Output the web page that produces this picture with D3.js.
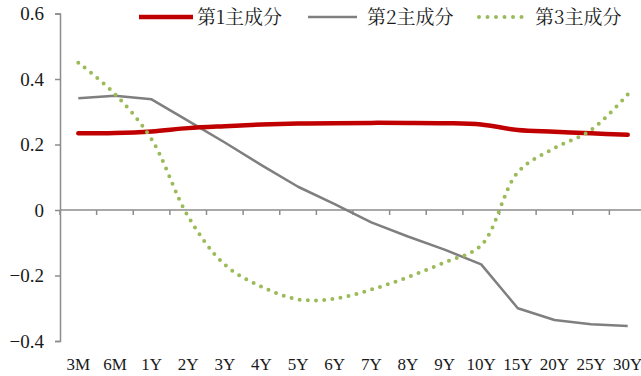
<!DOCTYPE html>
<html>
<head>
<meta charset="utf-8">
<script src="https://cdn.jsdelivr.net/npm/d3@7"></script>
<style>
  html, body { margin: 0; padding: 0; background: #fff; }
  svg { display: block; }
</style>
</head>
<body>
<svg id="chart" width="641" height="376"></svg>
<script>
// Maturity buckets on the x axis
const maturities = ["3M","6M","1Y","2Y","3Y","4Y","5Y","6Y","7Y","8Y","9Y","10Y","15Y","20Y","25Y","30Y"];

// Loadings of the first three principal components
const pc1 = [0.234, 0.235, 0.240, 0.250, 0.256, 0.261, 0.264, 0.265, 0.266, 0.266, 0.265, 0.261, 0.244, 0.239, 0.234, 0.230];
const pc2 = [0.341, 0.349, 0.338, 0.272, 0.206, 0.137, 0.071, 0.018, -0.038, -0.081, -0.121, -0.166, -0.300, -0.336, -0.349, -0.354];
const pc3 = [0.450, 0.354, 0.216, -0.020, -0.167, -0.234, -0.273, -0.271, -0.243, -0.205, -0.160, -0.108, 0.115, 0.189, 0.244, 0.353];

const yTicks = [-0.4, -0.2, 0, 0.2, 0.4, 0.6];
const seriesNames = ["第1主成分", "第2主成分", "第3主成分"];

const serif = "'Liberation Serif', 'Times New Roman', serif";
const song = "'Noto Serif CJK SC', 'Liberation Serif', serif";

const svg = d3.select("#chart");
const axisColor = "#8c8c8c";
const textColor = "#1a1a1a";

const x = d3.scaleBand().domain(maturities).range([60, 646]);
const y = d3.scaleLinear().domain([-0.4, 0.6]).range([341, 13.5]);
const cx = d => x(d) + x.bandwidth() / 2;

// y axis
const yAxis = svg.append("g")
  .attr("transform", "translate(60,0)")
  .call(d3.axisLeft(y).tickValues(yTicks).tickSize(5).tickPadding(11)
    .tickFormat(d => d === 0 ? "0" : d3.format(".1f")(d).replace("-", "\u2212")));
yAxis.attr("font-family", serif);
yAxis.select(".domain").attr("stroke", axisColor).attr("stroke-width", 1.5);
yAxis.selectAll(".tick line").attr("stroke", axisColor).attr("stroke-width", 1.5);
yAxis.selectAll(".tick text")
  .attr("font-family", serif).attr("font-size", 19).attr("fill", textColor);

// x axis along zero line with ticks between categories
const xAxisG = svg.append("g").attr("transform", `translate(0,${y(0)})`);
xAxisG.append("line")
  .attr("x1", 60).attr("x2", 646)
  .attr("stroke", axisColor).attr("stroke-width", 1.5);
xAxisG.selectAll("line.sep")
  .data(maturities)
  .join("line")
  .attr("class", "sep")
  .attr("x1", d => x(d)).attr("x2", d => x(d))
  .attr("y1", 0).attr("y2", 5)
  .attr("stroke", axisColor).attr("stroke-width", 1.5);

// category labels at the bottom
svg.append("g")
  .selectAll("text")
  .data(maturities)
  .join("text")
  .attr("font-family", serif)
  .attr("x", d => cx(d))
  .attr("y", 370)
  .attr("text-anchor", "middle")
  .attr("font-size", 17)
  .attr("fill", textColor)
  .text(d => d);

// series lines
const smooth = d3.line().x((d, i) => cx(maturities[i])).y(d => y(d)).curve(d3.curveCatmullRom.alpha(0.5));
const straight = d3.line().x((d, i) => cx(maturities[i])).y(d => y(d));

svg.append("path").datum(pc2)
  .attr("d", straight)
  .attr("fill", "none").attr("stroke", "#7f7f7f").attr("stroke-width", 2.5)
  .attr("stroke-linejoin", "round");

svg.append("path").datum(pc1)
  .attr("d", smooth)
  .attr("fill", "none").attr("stroke", "#c00000").attr("stroke-width", 4.5)
  .attr("stroke-linecap", "round");

svg.append("path").datum(pc3)
  .attr("d", smooth)
  .attr("fill", "none").attr("stroke", "#9bbb59").attr("stroke-width", 4)
  .attr("stroke-linecap", "round").attr("stroke-dasharray", "0 8.2");

// legend
const legendItems = [
  { name: seriesNames[0], x1: 139, x2: 193, tx: 197, color: "#c00000", w: 4.5, dash: null, cap: "butt" },
  { name: seriesNames[1], x1: 308, x2: 357, tx: 367, color: "#7f7f7f", w: 2.5, dash: null, cap: "butt" },
  { name: seriesNames[2], x1: 479, x2: 523, tx: 535, color: "#9bbb59", w: 4, dash: "0 8.5", cap: "round" }
];
const lg = svg.append("g");
legendItems.forEach(it => {
  lg.append("line")
    .attr("x1", it.x1).attr("x2", it.x2).attr("y1", 17).attr("y2", 17)
    .attr("stroke", it.color).attr("stroke-width", it.w)
    .attr("stroke-linecap", it.cap)
    .attr("stroke-dasharray", it.dash);
  lg.append("text")
    .attr("font-family", song)
    .attr("x", it.tx).attr("y", 24)
    .attr("font-size", 19)
    .attr("fill", textColor)
    .text(it.name);
});
</script>
</body>
</html>
